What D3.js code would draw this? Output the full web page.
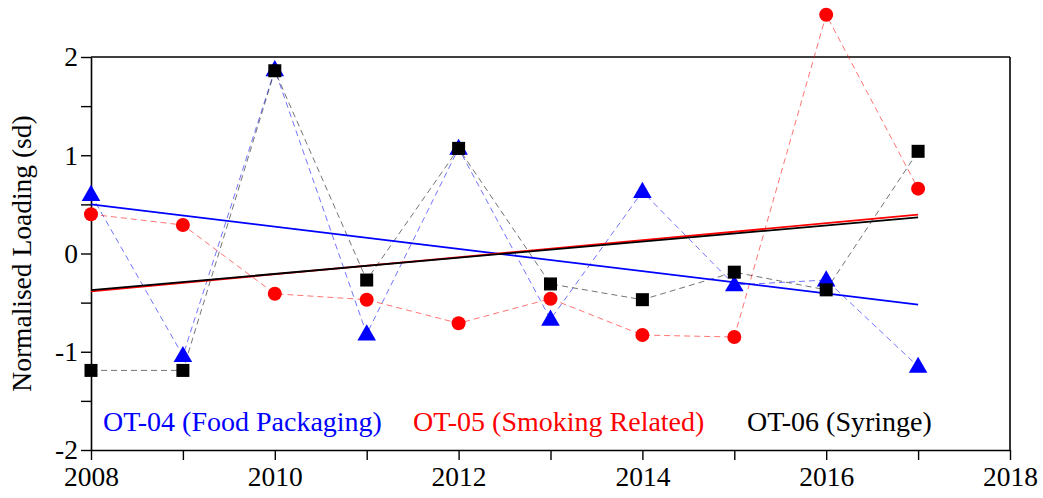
<!DOCTYPE html>
<html>
<head>
<meta charset="utf-8">
<script src="https://cdn.jsdelivr.net/npm/d3@7"></script>
<style>
body { margin: 0; background: #fff; }
svg text { font-family: "Liberation Serif", "Times New Roman", serif; }
</style>
</head>
<body>
<svg class="chart"></svg>
<script>
var years = [2008, 2009, 2010, 2011, 2012, 2013, 2014, 2015, 2016, 2017];
var ot04 = [0.60, -1.04, 1.87, -0.82, 1.07, -0.67, 0.63, -0.32, -0.27, -1.15];
var ot05 = [0.40, 0.29, -0.41, -0.47, -0.71, -0.46, -0.83, -0.85, 2.43, 0.66];
var ot06 = [-1.19, -1.19, 1.86, -0.27, 1.07, -0.31, -0.47, -0.19, -0.37, 1.04];
var xTicks = [2008, 2009, 2010, 2011, 2012, 2013, 2014, 2015, 2016, 2017, 2018];
var yTicks = [-2, -1.5, -1, -0.5, 0, 0.5, 1, 1.5, 2];
var legendLabels = ["OT-04 (Food Packaging)", "OT-05 (Smoking Related)", "OT-06 (Syringe)"];

var margin = {top: 57, right: 33, bottom: 48, left: 91};
var W = 1043, H = 498;
var width = W - margin.left - margin.right;
var height = H - margin.top - margin.bottom;

var svg = d3.select(".chart")
    .attr("width", W)
    .attr("height", H);

var chart = svg.append("g")
    .attr("transform", "translate(" + margin.left + "," + margin.top + ")");

var xChart = d3.scaleLinear().domain([2008, 2018]).range([0, width]);
var yChart = d3.scaleLinear().domain([-2, 2]).range([height, 0]);

function fmt(d) {
    if (d % 1 !== 0) return "";
    return d < 0 ? "-" + Math.abs(d) : String(d);
}

var xAxis = d3.axisBottom(xChart).tickValues(xTicks).tickSize(10).tickSizeOuter(0)
    .tickFormat(function(d){ return d % 2 === 0 ? String(d) : ""; });
var yAxis = d3.axisLeft(yChart).tickValues(yTicks).tickSize(10).tickSizeOuter(0)
    .tickFormat(fmt);

// frame: top and right
chart.append("line").attr("x1", 0).attr("x2", width).attr("y1", 0).attr("y2", 0)
    .attr("stroke", "#000").attr("stroke-width", 1.6);
chart.append("line").attr("x1", width).attr("x2", width).attr("y1", 0).attr("y2", height)
    .attr("stroke", "#000").attr("stroke-width", 1.6);

var gx = chart.append("g")
    .attr("transform", "translate(0," + height + ")")
    .call(xAxis);
var gy = chart.append("g").call(yAxis);

[gx, gy].forEach(function(g){
    g.select(".domain").attr("stroke-width", 1.6);
    g.selectAll(".tick line").attr("stroke-width", 1.4);
    g.selectAll("text").attr("font-size", "27.5px").attr("fill", "#000")
        .style("font-family", "'Liberation Serif', 'Times New Roman', serif");
});
gx.selectAll("text").attr("dy", null).attr("y", 36);
gy.selectAll("text").attr("x", -13).attr("dy", "0.32em");

chart.append("text")
    .attr("transform", "translate(-60," + (height / 2) + ") rotate(-90)")
    .attr("text-anchor", "middle")
    .attr("font-size", "27.5px")
    .text("Normalised Loading (sd)");

var series = [
    {name: "ot04", values: ot04, color: "#0000ff", shape: "triangle"},
    {name: "ot05", values: ot05, color: "#ff0000", shape: "circle"},
    {name: "ot06", values: ot06, color: "#000000", shape: "square"}
];

function regression(vals) {
    var mx = d3.mean(years), my = d3.mean(vals);
    var sxy = 0, sxx = 0;
    years.forEach(function(x, i){
        sxy += (x - mx) * (vals[i] - my);
        sxx += (x - mx) * (x - mx);
    });
    var b = sxy / sxx;
    return function(x){ return my + b * (x - mx); };
}

var line = d3.line()
    .x(function(d){ return xChart(d[0]); })
    .y(function(d){ return yChart(d[1]); });

// dashed connectors
series.forEach(function(s){
    chart.append("path")
        .datum(years.map(function(y, i){ return [y, s.values[i]]; }))
        .attr("d", line)
        .attr("fill", "none")
        .attr("stroke", s.color)
        .attr("stroke-opacity", 0.55)
        .attr("stroke-width", 1)
        .attr("stroke-dasharray", "6,4");
});

// trend lines
series.forEach(function(s){
    var f = regression(s.values);
    var x0 = years[0], x1 = years[years.length - 1];
    chart.append("path")
        .datum([[x0, f(x0)], [x1, f(x1)]])
        .attr("d", line)
        .attr("fill", "none")
        .attr("stroke", s.color)
        .attr("stroke-width", 1.8);
});

// markers
var triangle = d3.symbol().type(d3.symbolTriangle).size(150);
series.forEach(function(s){
    var pts = chart.selectAll(".pt-" + s.name)
        .data(years.map(function(y, i){ return [y, s.values[i]]; }))
        .enter();
    if (s.shape === "triangle") {
        pts.append("path")
            .attr("d", triangle)
            .attr("transform", function(d){ return "translate(" + xChart(d[0]) + "," + (yChart(d[1]) + 1) + ")"; })
            .attr("fill", s.color);
    } else if (s.shape === "circle") {
        pts.append("circle")
            .attr("cx", function(d){ return xChart(d[0]); })
            .attr("cy", function(d){ return yChart(d[1]); })
            .attr("r", 7)
            .attr("fill", s.color);
    } else {
        pts.append("rect")
            .attr("x", function(d){ return xChart(d[0]) - 6.5; })
            .attr("y", function(d){ return yChart(d[1]) - 6.5; })
            .attr("width", 13)
            .attr("height", 13)
            .attr("fill", s.color);
    }
});

// legend
var legendX = [12, 322, 656];
legendLabels.forEach(function(l, i){
    chart.append("text")
        .attr("x", legendX[i])
        .attr("y", 374)
        .attr("font-size", "28px")
        .attr("fill", series[i].color)
        .text(l);
});
</script>
</body>
</html>
